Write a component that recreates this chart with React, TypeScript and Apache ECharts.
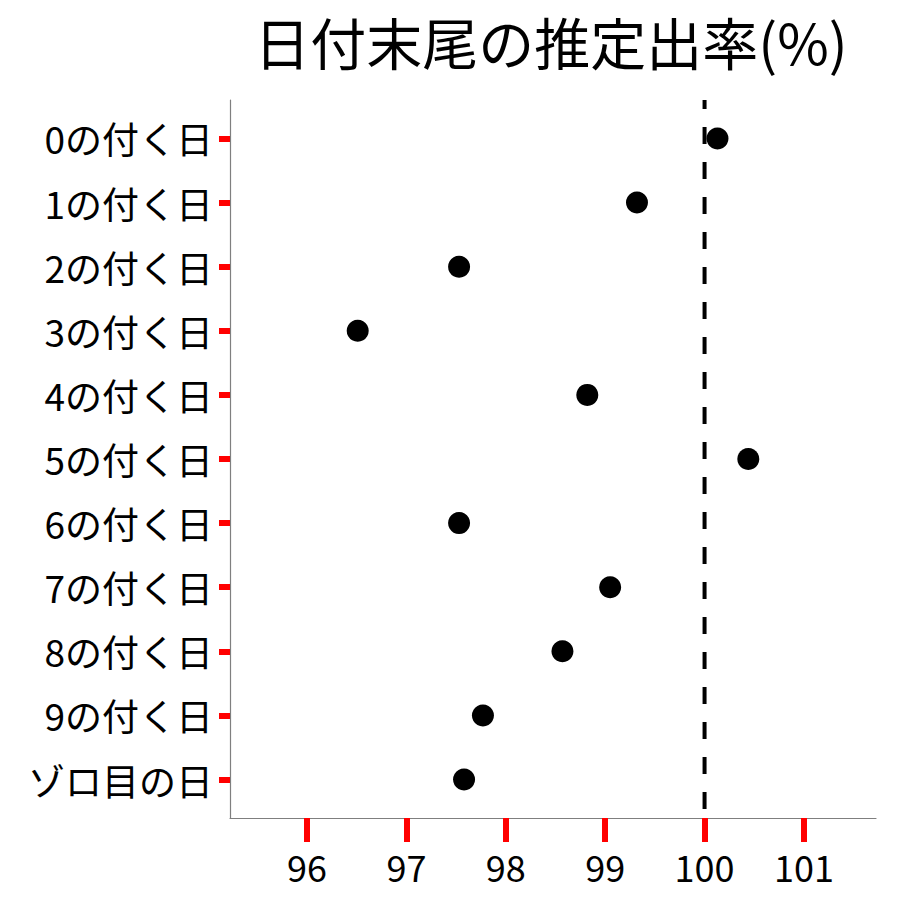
import React, { useEffect, useRef } from "react";
import * as echarts from "echarts";

const categories = [
  "0の付く日",
  "1の付く日",
  "2の付く日",
  "3の付く日",
  "4の付く日",
  "5の付く日",
  "6の付く日",
  "7の付く日",
  "8の付く日",
  "9の付く日",
  "ゾロ目の日",
];
const rates = [100.13, 99.32, 97.53, 96.51, 98.82, 100.44, 97.53, 99.05, 98.57, 97.77, 97.58];
const xTicks = [96, 97, 98, 99, 100, 101];
const referenceRate = 100;
const titleText = "日付末尾の推定出率(%)";

const X_MIN = 95.225;
const X_MAX = 101.725;
const Y_MIN = -0.6;
const Y_MAX = 10.6;

const FONT = '"Noto Sans CJK JP", "Noto Sans", sans-serif';

export default function App() {
  const ref = useRef<HTMLDivElement>(null);
  useEffect(() => {
    if (!ref.current) return;
    const chart = echarts.init(ref.current, null, { renderer: "svg" });
    const catIdx = categories.map((_, i) => i);
    chart.setOption({
      animation: false,
      title: {
        text: titleText,
        left: 546,
        textAlign: "center",
        top: 7,
        textStyle: { fontFamily: FONT, fontSize: 56, fontWeight: "normal", color: "#000" },
      },
      grid: { left: 230, right: 24, top: 100, bottom: 82 },
      xAxis: {
        type: "value",
        min: X_MIN,
        max: X_MAX,
        splitLine: { show: false },
        axisLine: { show: true, onZero: false, lineStyle: { color: "#7f7f7f", width: 1.2 } },
        axisTick: {
          show: true,
          length: 24,
          customValues: xTicks,
          lineStyle: { color: "#ff0000", width: 6 },
        },
        axisLabel: {
          customValues: xTicks,
          margin: 30,
          fontSize: 36,
          color: "#000",
          fontFamily: FONT,
        },
      },
      yAxis: {
        type: "value",
        inverse: true,
        min: Y_MIN,
        max: Y_MAX,
        splitLine: { show: false },
        axisLine: { show: true, onZero: false, lineStyle: { color: "#7f7f7f", width: 1.2 } },
        axisTick: {
          show: true,
          length: 11,
          customValues: catIdx,
          lineStyle: { color: "#ff0000", width: 6 },
        },
        axisLabel: {
          customValues: catIdx,
          margin: 17,
          fontSize: 37,
          color: "#000",
          fontFamily: FONT,
          formatter: (v: number) => categories[Math.round(v)] ?? "",
        },
      },
      series: [
        {
          type: "line",
          name: "reference",
          clip: false,
          silent: true,
          z: 2,
          showSymbol: false,
          symbol: "none",
          lineStyle: { color: "#000", width: 4, type: [17, 18], dashOffset: 8, opacity: 1 },
          data: [
            [referenceRate, Y_MIN],
            [referenceRate, Y_MAX],
          ],
        },
        {
          type: "scatter",
          name: "rates",
          clip: false,
          z: 5,
          symbol: "circle",
          symbolSize: 22,
          itemStyle: { color: "#000", opacity: 1 },
          data: rates.map((v, i) => [v, i]),
        },
      ],
    });
    return () => chart.dispose();
  }, []);
  return (
    <div
      ref={ref}
      style={{ position: "fixed", left: 0, top: 0, width: 900, height: 900, background: "#fff" }}
    />
  );
}
